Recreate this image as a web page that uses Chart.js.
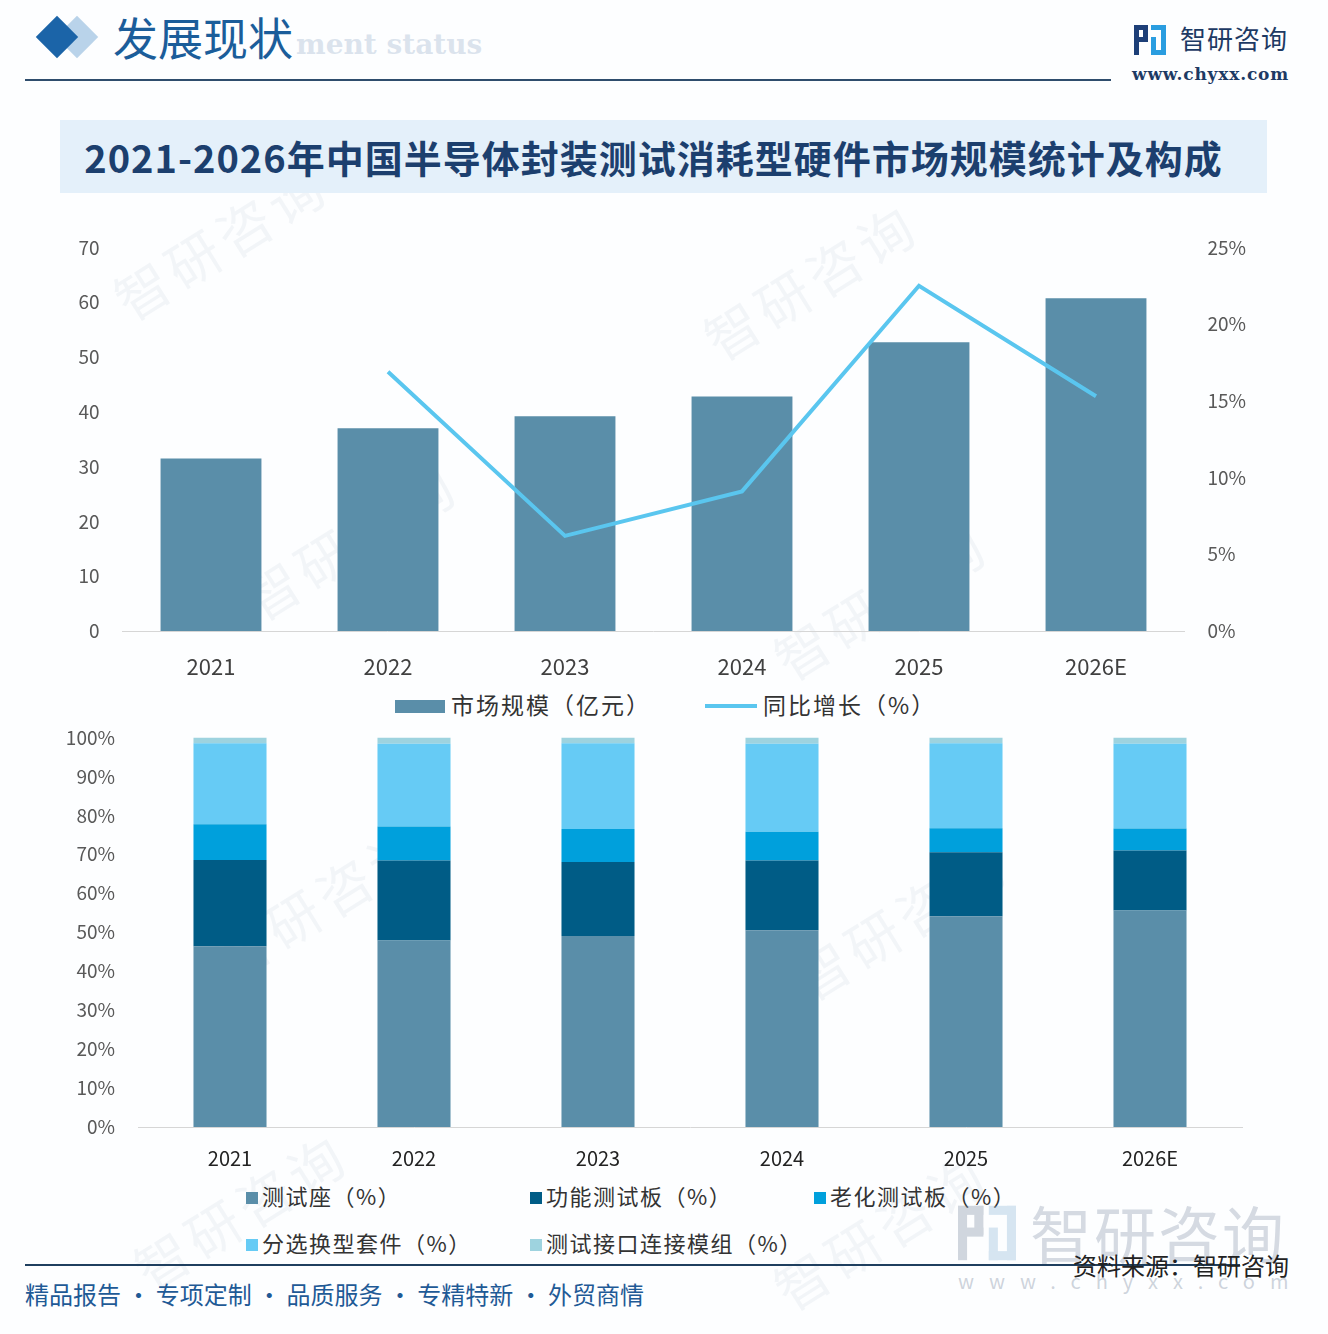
<!DOCTYPE html>
<html>
<head>
<meta charset="utf-8">
<script src="https://cdn.jsdelivr.net/npm/chart.js@4/dist/chart.umd.min.js"></script>
<style>
  html, body { margin: 0; padding: 0; background: #fff; }
  #page { position: relative; width: 1328px; height: 1334px; overflow: hidden; background: #fdfeff;
          font-family: "Noto Sans CJK SC", "Noto Sans", sans-serif; }
  .abs { position: absolute; white-space: nowrap; }
  .wm { position: absolute; color: rgba(150,170,190,0.10); font-size: 54px; transform: rotate(-32deg);
        white-space: nowrap; letter-spacing: 6px; }
  canvas { position: absolute; }
  .lg { position: absolute; font-size: 22px; color: #333; white-space: nowrap; line-height: 30px; letter-spacing: 1.5px; }
  .sq { display: inline-block; width: 12px; height: 12px; margin-right: 4px; vertical-align: 1px; }
</style>
</head>
<body>
<div id="page">
  <!-- faint watermarks -->
  <div class="wm" style="left:100px;top:200px;">智研咨询</div>
  <div class="wm" style="left:690px;top:240px;">智研咨询</div>
  <div class="wm" style="left:230px;top:500px;">智研咨询</div>
  <div class="wm" style="left:760px;top:560px;">智研咨询</div>
  <div class="wm" style="left:200px;top:860px;">智研咨询</div>
  <div class="wm" style="left:780px;top:880px;">智研咨询</div>
  <div class="wm" style="left:120px;top:1170px;">智研咨询</div>
  <div class="wm" style="left:760px;top:1190px;">智研咨询</div>

  <!-- header -->
  <div class="abs" style="left:62px;top:22px;width:30px;height:30px;background:#b9d3ea;transform:rotate(45deg);"></div>
  <div class="abs" style="left:42px;top:22px;width:30px;height:30px;background:#1b64a8;transform:rotate(45deg);"></div>
  <div class="abs" style="left:296px;top:28px;font:bold 28px 'DejaVu Serif',serif;color:rgba(190,205,222,0.55);">ment status</div>
  <div class="abs" style="left:113px;top:9px;font-size:45px;color:#1b5d9a;line-height:56px;">发展现状</div>
  <div class="abs" style="left:25px;top:79px;width:1086px;height:2px;background:#2f4d6d;"></div>

  <svg class="abs" style="left:1134px;top:25px;" width="32" height="30" viewBox="0 0 32 30">
    <rect x="0" y="0" width="14" height="5" fill="#1d3f78"/>
    <rect x="0" y="0" width="5" height="30" fill="#1d3f78"/>
    <rect x="9" y="0" width="5" height="16" fill="#1d3f78"/>
    <rect x="0" y="12" width="14" height="5" fill="#1d3f78"/>
    <rect x="17" y="0" width="15" height="5" fill="#2a9de0"/>
    <rect x="27" y="0" width="5" height="30" fill="#2a9de0"/>
    <rect x="17" y="12" width="5" height="18" fill="#2a9de0"/>
    <rect x="17" y="25" width="15" height="5" fill="#2a9de0"/>
  </svg>
  <div class="abs" style="left:1180px;top:20px;font-size:26px;color:#1d3a64;line-height:36px;letter-spacing:1px;">智研咨询</div>
  <div class="abs" style="left:1132px;top:64px;font:bold 17px 'DejaVu Serif',serif;color:#1d3a64;letter-spacing:0.8px;">www.chyxx.com</div>

  <!-- title -->
  <div class="abs" style="left:60px;top:120px;width:1207px;height:73px;background:#e4f0fa;"></div>
  <div class="abs" style="left:50px;top:120px;width:1207px;height:73px;line-height:73px;text-align:center;font-size:38px;letter-spacing:1px;font-weight:bold;color:#1c3f6e;">2021-2026年中国半导体封装测试消耗型硬件市场规模统计及构成</div>

  <canvas id="topChart" width="1328" height="468" style="left:0;top:213px;width:1328px;height:468px;"></canvas>
  <div id="topLegend"></div>

  <canvas id="bottomChart" width="1328" height="469" style="left:0;top:703px;width:1328px;height:469px;"></canvas>
  <div id="bottomLegend"></div>

  <!-- footer -->
  <svg class="abs" style="left:958px;top:1205px;opacity:0.35;" width="58" height="56" viewBox="0 0 32 30">
    <rect x="0" y="0" width="14" height="5" fill="#7f8ea3"/>
    <rect x="0" y="0" width="5" height="30" fill="#7f8ea3"/>
    <rect x="9" y="0" width="5" height="16" fill="#7f8ea3"/>
    <rect x="0" y="12" width="14" height="5" fill="#7f8ea3"/>
    <rect x="17" y="0" width="15" height="5" fill="#8fb8da"/>
    <rect x="27" y="0" width="5" height="30" fill="#8fb8da"/>
    <rect x="17" y="12" width="5" height="18" fill="#8fb8da"/>
    <rect x="17" y="25" width="15" height="5" fill="#8fb8da"/>
  </svg>
  <div class="abs" style="left:1030px;top:1196px;font-size:62px;color:rgba(165,175,190,0.45);letter-spacing:2px;line-height:72px;">智研咨询</div>
  <div class="abs" style="left:958px;top:1266px;font-size:20px;color:rgba(165,175,190,0.55);letter-spacing:15px;">www.chyxx.com</div>
  <div class="abs" style="left:25px;top:1264px;width:1215px;height:2px;background:#1f3f5f;"></div>
  <div class="abs" style="left:1073px;top:1248px;font-size:24px;color:#222;line-height:34px;">资料来源：智研咨询</div>
  <div class="abs" style="left:25px;top:1277px;font-size:24px;color:#1f5a96;line-height:34px;">精品报告 · 专项定制 · 品质服务 · 专精特新 · 外贸商情</div>
</div>

<script>
// ---- data ----
var years = ['2021', '2022', '2023', '2024', '2025', '2026E'];
var marketSize = [31.5, 37.0, 39.2, 42.8, 52.7, 60.7];      // 亿元
var growthRate = [null, 16.9, 6.2, 9.1, 22.5, 15.3];        // %

var shareSeat = [46.4, 47.9, 49.0, 50.5, 54.1, 55.6];       // 测试座
var shareFunc = [22.1, 20.5, 19.0, 17.9, 16.4, 15.4];       // 功能测试板
var shareBurnIn = [9.2, 8.7, 8.5, 7.4, 6.2, 5.6];           // 老化测试板
var shareSorter = [20.8, 21.3, 22.0, 22.6, 21.8, 21.8];     // 分选换型套件
var shareIface = [1.5, 1.6, 1.5, 1.6, 1.5, 1.6];            // 测试接口连接模组

var leftTicks = [0, 10, 20, 30, 40, 50, 60, 70];
var rightTicks = [0, 5, 10, 15, 20, 25];
var pctTicks = [0, 10, 20, 30, 40, 50, 60, 70, 80, 90, 100];

var topNames = ['市场规模（亿元）', '同比增长（%）'];
var stackNames = ['测试座（%）', '功能测试板（%）', '老化测试板（%）', '分选换型套件（%）', '测试接口连接模组（%）'];
var stackColors = ['#5a8ea9', '#005c86', '#00a0dc', '#66cbf5', '#9ed3df'];
var lineColor = '#5ac6ef';

var FONT = '"Noto Sans CJK SC", "Noto Sans", sans-serif';
Chart.defaults.font.family = FONT;

// ---- top: bar + line ----
// note: y-axis top padding = half label height + tick padding (~34px), canvas placed to suit
var ctx1 = document.getElementById('topChart').getContext('2d');
new Chart(ctx1, {
    type: 'bar',
    data: {
        labels: years,
        datasets: [
            {
                type: 'line',
                label: topNames[1],
                data: growthRate,
                yAxisID: 'y1',
                borderColor: lineColor,
                borderWidth: 4,
                pointRadius: 0,
                tension: 0,
                fill: false,
                order: 0
            },
            {
                label: topNames[0],
                data: marketSize,
                yAxisID: 'y',
                backgroundColor: stackColors[0],
                barPercentage: 0.57,
                categoryPercentage: 1,
                order: 1
            }
        ]
    },
    options: {
        responsive: false,
        animation: false,
        layout: { padding: 0 },
        plugins: { legend: { display: false }, tooltip: { enabled: false } },
        scales: {
            x: {
                grid: { display: false, drawTicks: false },
                border: { display: true, color: '#d6d6d6', width: 1 },
                ticks: { color: '#404040', padding: 22, font: { size: 22 } },
                afterFit: function (s) { s.height = 50; }
            },
            y: {
                position: 'left',
                min: 0, max: 70,
                afterBuildTicks: function (s) { s.ticks = leftTicks.map(function (v) { return { value: v }; }); },
                grid: { display: false, drawTicks: false },
                border: { display: false },
                ticks: { color: '#595959', padding: 23, font: { size: 19 } },
                afterFit: function (s) { s.width = 122.5; }
            },
            y1: {
                position: 'right',
                min: 0, max: 25,
                afterBuildTicks: function (s) { s.ticks = rightTicks.map(function (v) { return { value: v }; }); },
                grid: { display: false, drawTicks: false },
                border: { display: false },
                ticks: { color: '#595959', padding: 23, font: { size: 19 },
                    callback: function (v) { return v + '%'; } },
                afterFit: function (s) { s.width = 143.5; }
            }
        }
    }
});

// top legend (html)
var tl = document.getElementById('topLegend');
tl.innerHTML =
    '<div class="lg" style="left:395px;top:689px;font-size:23px;letter-spacing:2px;">' +
    '<span style="display:inline-block;width:50px;height:13px;background:' + stackColors[0] + ';margin-right:6px;vertical-align:1px;"></span>' + topNames[0] + '</div>' +
    '<div class="lg" style="left:705px;top:689px;font-size:23px;letter-spacing:2px;">' +
    '<span style="display:inline-block;width:52px;height:4px;background:' + lineColor + ';margin-right:6px;vertical-align:6px;"></span>' + topNames[1] + '</div>';

// ---- bottom: 100% stacked ----
var stackData = [shareSeat, shareFunc, shareBurnIn, shareSorter, shareIface];
var ctx2 = document.getElementById('bottomChart').getContext('2d');
new Chart(ctx2, {
    type: 'bar',
    data: {
        labels: years,
        datasets: stackData.map(function (d, i) {
            return {
                label: stackNames[i],
                data: d,
                backgroundColor: stackColors[i],
                barPercentage: 0.397,
                categoryPercentage: 1
            };
        })
    },
    options: {
        responsive: false,
        animation: false,
        layout: { padding: { top: 0, left: 0, right: 86, bottom: 0 } },
        plugins: { legend: { display: false }, tooltip: { enabled: false } },
        scales: {
            x: {
                stacked: true,
                grid: { display: false, drawTicks: false },
                border: { display: true, color: '#d6d6d6', width: 1 },
                ticks: { color: '#222', padding: 19, font: { size: 20 } },
                afterFit: function (s) { s.height = 45; }
            },
            y: {
                stacked: true,
                min: 0, max: 100,
                afterBuildTicks: function (s) { s.ticks = pctTicks.map(function (v) { return { value: v }; }); },
                grid: { display: false, drawTicks: false },
                border: { display: false },
                ticks: { color: '#595959', padding: 23, font: { size: 19 },
                    callback: function (v) { return v + '%'; } },
                afterFit: function (s) { s.width = 138; }
            }
        }
    }
});

// bottom legend (html)
var legPos = [[246, 1180], [530, 1180], [814, 1180], [246, 1227], [530, 1227]];
var bl = document.getElementById('bottomLegend');
var html = '';
stackNames.forEach(function (n, i) {
    html += '<div class="lg" style="left:' + legPos[i][0] + 'px;top:' + legPos[i][1] + 'px;">' +
        '<span class="sq" style="background:' + stackColors[i] + ';"></span>' + n + '</div>';
});
bl.innerHTML = html;
</script>
</body>
</html>
